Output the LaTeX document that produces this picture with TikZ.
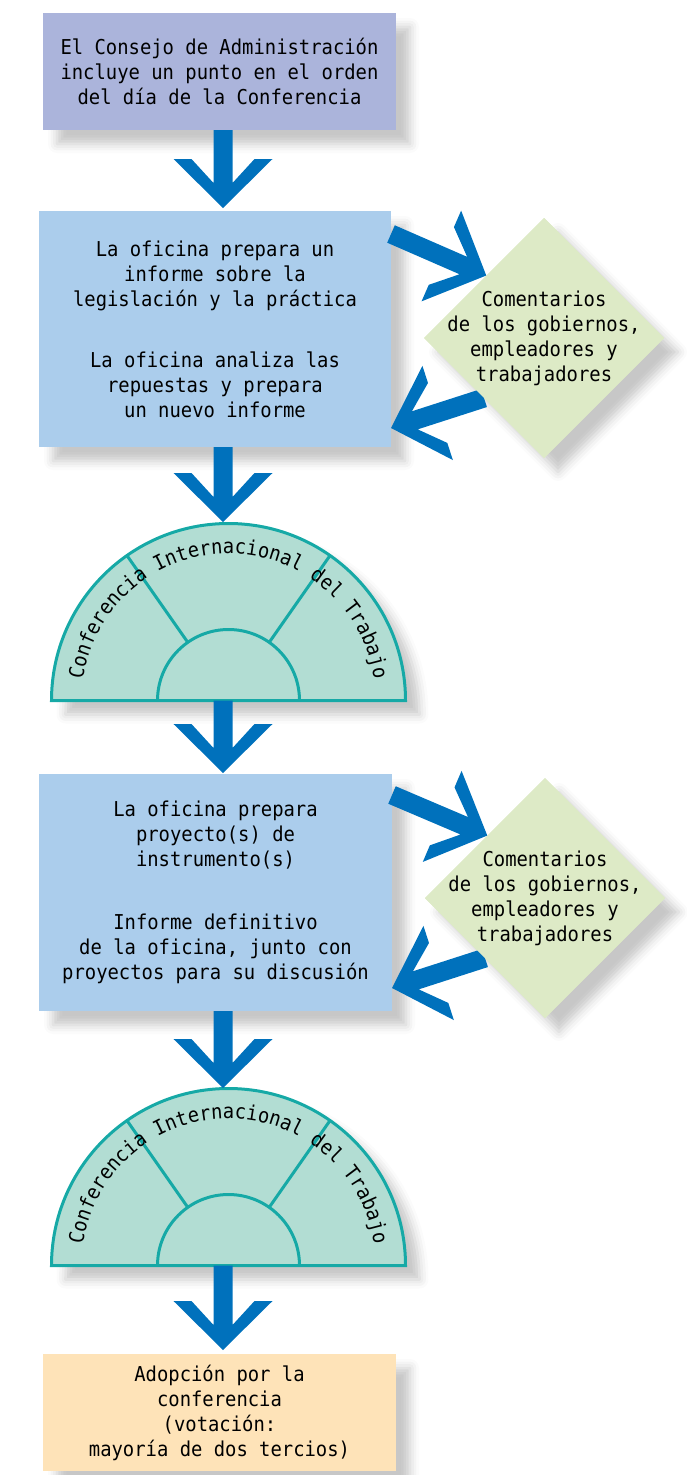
\documentclass[tikz,border=0pt]{standalone}
\usepackage{fontspec}
\setmainfont{DejaVu Sans Mono}[FakeStretch=0.92]
\usetikzlibrary{calc,shapes.geometric,shadows.blur,decorations.text}
\definecolor{topblue}{HTML}{ABB4DB}
\definecolor{midblue}{HTML}{ABCDEC}
\definecolor{dgreen}{HTML}{DDEAC6}
\definecolor{semifill}{HTML}{B2DDD3}
\definecolor{semiline}{HTML}{16A9A6}
\definecolor{peach}{HTML}{FEE3B8}
\definecolor{arrowblue}{HTML}{0071BC}
\newcommand\chevarrow[2]{%
  \path let \p1=($(#2)-(#1)$) in \pgfextra{%
    \pgfmathsetmacro\chtmpa{atan2(\y1,\x1)}\xdef\chang{\chtmpa}%
    \pgfmathsetmacro\chtmpb{veclen(\x1,\y1)}\xdef\chlen{\chtmpb}};
  \fill[arrowblue, shift={(#1)}, rotate=\chang]
    (0,9.5) -- (\chlen-25,9.5) -- (\chlen-49,31.5) -- (\chlen-49,49.5) -- (\chlen,0)
    -- (\chlen-49,-49.5) -- (\chlen-49,-31.5) -- (\chlen-25,-9.5) -- (0,-9.5) -- cycle;
}
\newcommand\confsemi[1]{%
  \fill[semifill, shapeshadow] ($(#1)+(-177,0)$) arc[start angle=180,end angle=0,radius=177] -- cycle;
  \draw[semistroke] ($(#1)+(-177,0)$) arc[start angle=180,end angle=0,radius=177] -- cycle;
  \draw[semistroke] ($(#1)+(-71,0)$) arc[start angle=180,end angle=0,radius=71];
  \draw[semistroke] ($(#1)+(125:71)$) -- ($(#1)+(125:177)$);
  \draw[semistroke] ($(#1)+(55:71)$) -- ($(#1)+(55:177)$);
  \path[decorate, decoration={text along path, text align=center,
      text={|\fontsize{20.5}{25}\selectfont|Conferencia Internacional del Trabajo}}]
    ($(#1)+(-147,0)$) arc[start angle=180,end angle=0,radius=147];
}
\begin{document}
\begin{tikzpicture}[x=1pt,y=1pt,
  txt/.style={font=\fontsize{20.5}{25}\selectfont, align=center, inner sep=0pt},
  shapeshadow/.style={blur shadow={shadow xshift=14pt, shadow yshift=-14pt, shadow blur radius=9pt, shadow opacity=22}},
  box/.style={rectangle, inner sep=0pt, outer sep=0pt, shapeshadow, txt},
  diabase/.style={diamond, minimum width=240pt, minimum height=240pt, inner sep=0pt, outer sep=0pt, fill=dgreen},
  dia/.style={diabase, shapeshadow},
  semistroke/.style={draw=semiline, line width=3pt},
]
\useasboundingbox (0,0) rectangle (687,-1475);

% boxes
\node[box, fill=topblue, minimum width=353pt, minimum height=117pt] (b1) at (219.5,-71.5)
  {El Consejo de Administración\\incluye un punto en el orden\\del día de la Conferencia};
\node[box, fill=midblue, minimum width=352pt, minimum height=236pt] (b2) at (215,-329)
  {La oficina prepara un\\informe sobre la\\legislación y la práctica\\[36pt]La oficina analiza las\\repuestas y prepara\\un nuevo informe};
\node[box, fill=midblue, minimum width=353pt, minimum height=237pt] (b3) at (215.5,-892.5)
  {La oficina prepara\\proyecto(s) de\\instrumento(s)\\[38pt]Informe definitivo\\de la oficina, junto con\\proyectos para su discusión};
\node[box, fill=peach, minimum width=353pt, minimum height=117pt] (b4) at (219.5,-1412.5)
  {Adopción por la\\conferencia\\(votación:\\mayoría de dos tercios)};

% semicircle centres
\coordinate (s1) at (228.5,-700.5);
\coordinate (s2) at (228.5,-1265.5);
\coordinate (s1top) at (228.5,-522);
\coordinate (s2top) at (228.5,-1088);
\confsemi{s1}
\confsemi{s2}

% vertical arrows
\coordinate (ax) at (223,0);
\coordinate (a1s) at (ax |- b1.south);
\coordinate (a1e) at ($(ax |- b2.north)+(0,3)$);
\coordinate (a2s) at (ax |- b2.south);
\coordinate (a2e) at (ax |- s1top);
\coordinate (a3s) at (ax |- s1);
\coordinate (a3e) at ($(ax |- b3.north)+(0,1)$);
\coordinate (a4s) at (ax |- b3.south);
\coordinate (a4e) at (ax |- s2top);
\coordinate (a5s) at (ax |- s2);
\coordinate (a5e) at ($(ax |- b4.north)+(0,4)$);
\chevarrow{a1s}{a1e}
\chevarrow{a2s}{a2e}
\chevarrow{a3s}{a3e}
\chevarrow{a4s}{a4e}
\chevarrow{a5s}{a5e}

% diamonds with their shadows
\path node[dia] (d1) at (544,-338) {} node[dia] (d2) at (545,-898) {};

% diagonal arrows
\coordinate (u1s) at ($(b2.north east)+(0,-23)$);
\coordinate (u1e) at ($(d1.west)!0.52!(d1.north)$);
\coordinate (l1s) at ($(d1.west)!0.5!(d1.south)$);
\coordinate (l1e) at ($(b2.south east)+(0,19)$);
\coordinate (u2s) at ($(b3.north east)+(0,-21)$);
\coordinate (u2e) at ($(d2.west)!0.52!(d2.north)$);
\coordinate (l2s) at ($(d2.west)!0.5!(d2.south)$);
\coordinate (l2e) at ($(b3.south east)+(0,23)$);
\chevarrow{u1s}{u1e}
\chevarrow{l1s}{l1e}
\chevarrow{u2s}{u2e}
\chevarrow{l2s}{l2e}

% diamonds again, over the starts of the returning arrows
\node[diabase] (d1b) at (d1) {};
\node[diabase] (d2b) at (d2) {};
\node[txt] (d1t) at (d1.center) {Comentarios\\de los gobiernos,\\empleadores y\\trabajadores};
\node[txt] (d2t) at (d2.center) {Comentarios\\de los gobiernos,\\empleadores y\\trabajadores};
\end{tikzpicture}
\end{document}
